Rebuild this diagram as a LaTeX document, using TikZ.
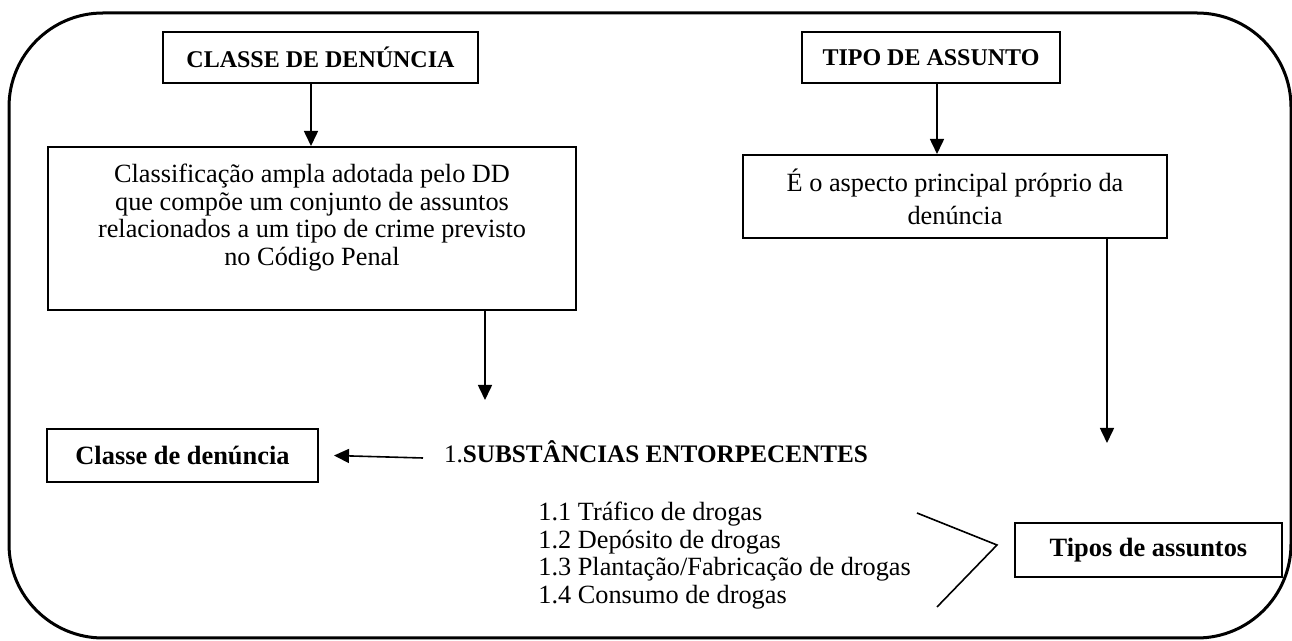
\documentclass[tikz,border=0pt]{standalone}
\usepackage{fontspec}
\setmainfont{Liberation Serif}
\usetikzlibrary{arrows.meta,calc}
\begin{document}
\begin{tikzpicture}[x=0.5pt,y=-0.5pt,
  box/.style={draw,line width=1pt,inner sep=0pt,align=center},
  arr/.style={line width=0.8pt,-{Triangle[length=7.5pt,width=7pt]}},
  txt/.style={font=\fontsize{13.15}{13.75}\selectfont},
  smallbold/.style={font=\fontsize{12}{13}\selectfont\bfseries},
  bigbold/.style={font=\fontsize{13.2}{14}\selectfont\bfseries}]
\useasboundingbox (0,0) rectangle (1292,641);
% outer frame
\draw[line width=1.5pt,rounded corners=47pt] (9,13) rectangle (1291,638);
% boxes
\node[box,smallbold,minimum width=157.5pt,minimum height=25.5pt] (b1) at (320.5,57.5) {CLASSE DE DENÚNCIA};
\node[box,txt,minimum width=264pt,minimum height=81.5pt] (b2) at (312,228.5)
  {Classificação ampla adotada pelo DD\\ que compõe um conjunto de assuntos\\ relacionados a um tipo de crime previsto\\ no Código Penal\\ \mbox{}};
\node[box,smallbold,minimum width=129pt,minimum height=25.5pt] (b3) at (931,57.5) {TIPO DE ASSUNTO};
\node[box,txt,font=\fontsize{13.15}{16.5}\selectfont,minimum width=212pt,minimum height=41.5pt] (b4) at (955,196.5)
  {É o aspecto principal próprio da\\ denúncia};
\node[box,bigbold,minimum width=135.5pt,minimum height=26.5pt] (b5) at (182.5,455.5) {Classe de denúncia};
\node[inner sep=0pt,font=\fontsize{12.6}{13.75}\selectfont] (head) at (656,452) {1.\textbf{SUBSTÂNCIAS ENTORPECENTES}};
\node[txt,inner sep=0pt,anchor=north west,align=left] (list) at (538,502)
  {1.1 Tráfico de drogas\\ 1.2 Depósito de drogas\\ 1.3 Plantação/Fabricação de drogas\\ 1.4 Consumo de drogas};
\node[box,bigbold,minimum width=133.5pt,minimum height=27pt] (b6) at (1148.5,550) {Tipos de assuntos};
% connectors
\draw[arr] ([xshift=-4.75pt]b1.south) -- ([xshift=-4.75pt]b1.south |- b2.north);
\draw[arr] ([xshift=3pt]b3.south) -- ([xshift=3pt]b3.south |- b4.north);
\coordinate (a2s) at (485,310);
\coordinate (a2e) at (485,400);
\draw[arr] (b2.south -| a2s) -- (a2e);
\coordinate (a4s) at (1107,238);
\coordinate (a4e) at (1107,443);
\draw[arr] (b4.south -| a4s) -- (a4e);
\coordinate (a5s) at (423,458);
\draw[arr] (a5s) -- ($(b5.east)+(15,0)$ |- a5s);
\coordinate (br1) at (917,513);
\coordinate (br2) at (997,545);
\coordinate (br3) at (937,607);
\draw[line width=0.8pt] (br1) -- (br2) -- (br3);
\end{tikzpicture}
\end{document}
